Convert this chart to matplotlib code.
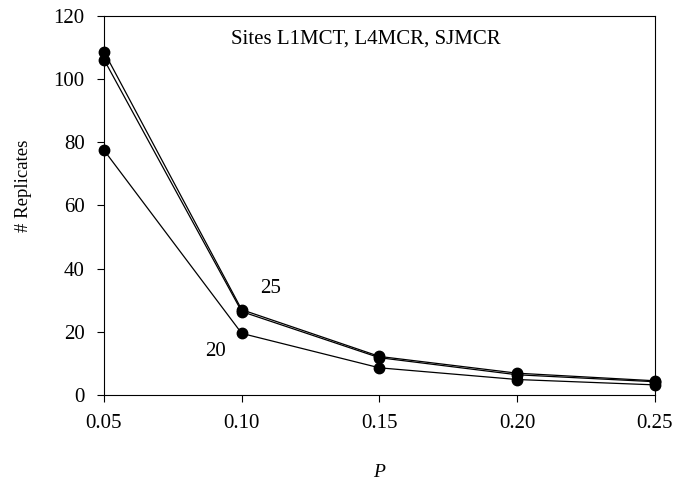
import matplotlib
matplotlib.use("Agg")
import matplotlib.pyplot as plt

plt.rcParams['font.family'] = ['Liberation Serif', 'DejaVu Serif']

p_values = [0.05, 0.10, 0.15, 0.20, 0.25]
series_a = [108.7, 27.0, 12.2, 6.9, 4.5]
series_b = [106.2, 26.4, 11.8, 6.4, 4.2]
series_c = [77.5, 19.5, 8.6, 4.9, 3.2]
y_ticks = [0, 20, 40, 60, 80, 100, 120]

fig = plt.figure(figsize=(6.77, 4.84), dpi=100)
ax = fig.add_axes([0.1536, 0.1839, 0.8139, 0.7831])

for ys in (series_a, series_b, series_c):
    ax.plot(p_values, ys, color='black', linewidth=0.9, marker='o',
            markersize=7.5, clip_on=False, zorder=3)

ax.set_xlim(0.05, 0.25)
ax.set_ylim(0, 120)
ax.set_xticks(p_values)
ax.set_xticklabels([f"{p:.2f}" for p in p_values])
ax.set_yticks(y_ticks)
ax.tick_params(direction='out', length=5, width=0.8, labelsize=15)
ax.tick_params(axis='y', pad=9)
ax.tick_params(axis='x', pad=9)

for s in ax.spines.values():
    s.set_linewidth(0.8)

ax.text(0.1451, 112.7, "Sites L1MCT, L4MCR, SJMCR", fontsize=15, ha='center', va='center')
ax.text(0.1103, 33.7, "25", fontsize=15, ha='center', va='center')
ax.text(0.0903, 13.9, "20", fontsize=15, ha='center', va='center')

ax.set_ylabel("# Replicates", fontsize=13.5)
ax.yaxis.set_label_coords(-0.131, 0.551)
ax.set_xlabel("P", fontsize=14, style='italic', labelpad=22)

fig.savefig("out.png", dpi=100)
